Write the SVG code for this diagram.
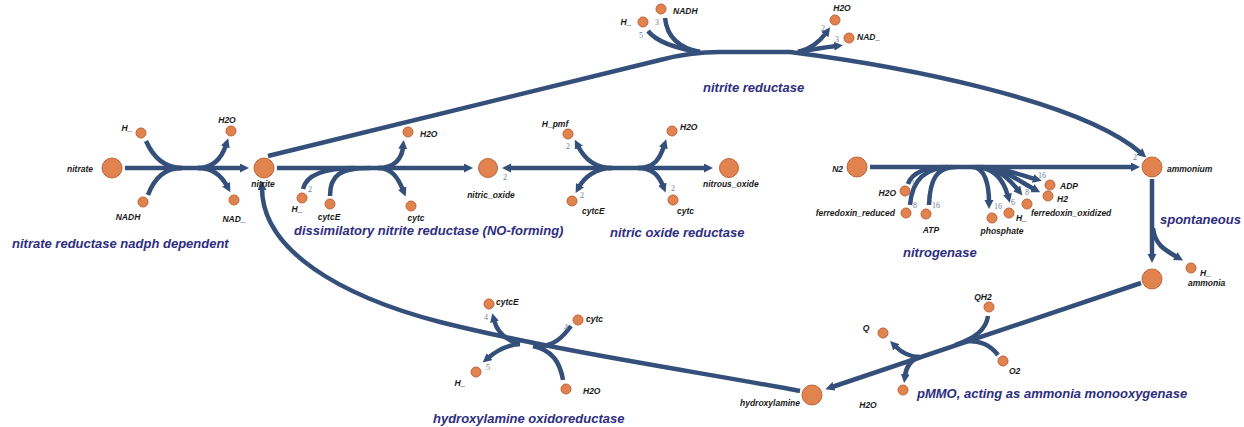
<svg xmlns="http://www.w3.org/2000/svg" width="1244" height="427" viewBox="0 0 1244 427">
<style>
.e{fill:none;stroke:#34507a;stroke-width:4.5}
.a{marker-end:url(#ah)}
.b{marker-start:url(#ah)}
.n{fill:#e0834f;stroke:#c0643a;stroke-width:1}
.l{font-family:"Liberation Sans",Arial,sans-serif;font-size:8.5px;font-style:italic;font-weight:bold;fill:#1a1a1a}
.ln{font-family:"Liberation Sans",Arial,sans-serif;font-size:8.5px;font-style:italic;font-weight:bold;fill:#1a1a1a}
.m{text-anchor:middle}
.r{text-anchor:end}
.rx{font-family:"Liberation Sans",Arial,sans-serif;font-size:13px;font-style:italic;font-weight:bold;fill:#2e2e80}
.st{font-family:"Liberation Serif",serif;font-size:8px;fill:#6b7b99}
</style>
<defs>
<marker id="ah" markerUnits="userSpaceOnUse" markerWidth="10" markerHeight="10" refX="2" refY="4.5" orient="auto-start-reverse"><path d="M0,0 L9,4.5 L0,9 z" fill="#34507a"/></marker>
</defs>
<rect width="1244" height="427" fill="#ffffff"/>
<g id="connectors">
<path class="e a" d="M125 168 L242 168"/>
<path class="e" d="M146 141 Q158 168 182 168"/>
<path class="e" d="M148 195 Q158 168 182 168"/>
<path class="e a" d="M198 168 C212 168 221 160 226 145"/>
<path class="e a" d="M198 168 C212 168 221 175 227 186"/>
<path class="e a" d="M268 156 L660 60 Q690 52 720 52 L790 52 C900 66 1080 100 1141 153"/>
<path class="e" d="M648 31 Q660 46 700 52"/>
<path class="e" d="M665 18 Q668 46 700 52"/>
<path class="e a" d="M798 52 Q815 48 826 33"/>
<path class="e a" d="M798 52 Q820 48 836 46"/>
<path class="e a" d="M277 168 L466 168"/>
<path class="e" d="M303 189 Q308 168 355 168"/>
<path class="e" d="M330 196 C330 175 340 168 370 168"/>
<path class="e a" d="M378 168 C395 168 402 158 403 147"/>
<path class="e a" d="M378 168 C392 168 398 178 403 190"/>
<path class="e a b" d="M509 168 L706 168"/>
<path class="e a" d="M612 168 C595 168 584 158 578 146"/>
<path class="e a" d="M612 168 C595 168 584 178 579 187"/>
<path class="e a" d="M638 168 C655 168 660 158 664 146"/>
<path class="e a" d="M638 168 C653 168 659 176 663 186"/>
<path class="e a" d="M870 167 L1133 167"/>
<path class="e" d="M908 184 C912 172 925 167 948 167"/>
<path class="e" d="M910 205 C912 180 925 167 952 167"/>
<path class="e" d="M929 205 C930 180 936 167 956 167"/>
<path class="e a" d="M972 167 C985 167 989 185 989 202"/>
<path class="e a" d="M975 167 C995 167 1004 182 1008 196"/>
<path class="e a" d="M978 167 C998 167 1010 180 1018 190"/>
<path class="e a" d="M980 167 C1005 168 1020 182 1034 189"/>
<path class="e a" d="M982 167 C1005 168 1020 175 1035 179"/>
<path class="e a" d="M1152 179 L1152 256"/>
<path class="e a" d="M1153 228 C1155 245 1165 250 1177 257"/>
<path class="e a" d="M1141 283 L832 387"/>
<path class="e" d="M988 316 C986 330 975 338 955 345"/>
<path class="e" d="M998 355 C990 345 982 341 966 341"/>
<path class="e a" d="M920 357 C910 357 902 353 895 346"/>
<path class="e a" d="M920 357 C910 360 906 368 905 376"/>
<path class="e a" d="M800 391 C700 372 560 352 440 322 C340 296 262 250 262 188"/>
<path class="e" d="M571 326 C562 338 555 345 538 347"/>
<path class="e" d="M563 380 C560 362 552 350 533 346"/>
<path class="e a" d="M520 344 C505 340 497 332 494 320"/>
<path class="e a" d="M520 344 C505 345 495 352 488 358"/>
<text class="st" x="639" y="38">5</text>
<text class="st" x="655" y="25">3</text>
<text class="st" x="821" y="31">2</text>
<text class="st" x="835" y="42">3</text>
<text class="st" x="308" y="192">2</text>
<text class="st" x="503" y="180">2</text>
<text class="st" x="566" y="149">2</text>
<text class="st" x="580" y="198">2</text>
<text class="st" x="671" y="191">2</text>
<text class="st" x="911" y="186">1</text>
<text class="st" x="913" y="208">8</text>
<text class="st" x="932" y="208">16</text>
<text class="st" x="994" y="209">16</text>
<text class="st" x="1011" y="205">6</text>
<text class="st" x="1025" y="195">8</text>
<text class="st" x="1038" y="178">16</text>
<text class="st" x="1133" y="160">2</text>
<text class="st" x="484" y="320">4</text>
<text class="st" x="564" y="330">4</text>
<text class="st" x="486" y="370">5</text>
</g>
<g id="nitrate"><circle class="n" cx="112" cy="168" r="10"/><text class="ln r" x="93" y="172">nitrate</text></g>
<g id="nitrite"><circle class="n" cx="264" cy="168" r="10"/><text class="ln m" x="263" y="187">nitrite</text></g>
<g id="nitric_oxide"><circle class="n" cx="488" cy="168" r="9.5"/><text class="ln m" x="491" y="198">nitric_oxide</text></g>
<g id="nitrous_oxide"><circle class="n" cx="729" cy="168" r="9.5"/><text class="ln" x="703" y="187">nitrous_oxide</text></g>
<g id="N2"><circle class="n" cx="857" cy="167" r="10"/><text class="l r" x="843" y="172">N2</text></g>
<g id="ammonium"><circle class="n" cx="1152" cy="167" r="10"/><text class="ln" x="1167" y="172">ammonium</text></g>
<g id="ammonia"><circle class="n" cx="1152" cy="279" r="10"/><text class="ln" x="1188" y="286">ammonia</text></g>
<g id="hydroxylamine"><circle class="n" cx="812" cy="395" r="10"/><text class="ln r" x="800" y="406">hydroxylamine</text></g>
<g id="r1_H"><circle class="n" cx="141" cy="133" r="5"/><text class="l m" x="127" y="131">H_</text></g>
<g id="r1_NADH"><circle class="n" cx="143" cy="202" r="5"/><text class="l m" x="128" y="220">NADH</text></g>
<g id="r1_H2O"><circle class="n" cx="231" cy="131" r="5"/><text class="l m" x="227" y="123">H2O</text></g>
<g id="r1_NAD"><circle class="n" cx="234" cy="200" r="5"/><text class="l m" x="234" y="222">NAD_</text></g>
<g id="r2_H"><circle class="n" cx="643" cy="22" r="5"/><text class="l m" x="626" y="25">H_</text></g>
<g id="r2_NADH"><circle class="n" cx="661" cy="9" r="5"/><text class="l" x="673" y="14">NADH</text></g>
<g id="r2_H2O"><circle class="n" cx="835" cy="20" r="5"/><text class="l m" x="842" y="11">H2O</text></g>
<g id="r2_NAD"><circle class="n" cx="849" cy="38" r="5"/><text class="l" x="857" y="40">NAD_</text></g>
<g id="r3_H"><circle class="n" cx="302" cy="198" r="5"/><text class="l m" x="297" y="212">H_</text></g>
<g id="r3_cytcE"><circle class="n" cx="330" cy="204" r="5"/><text class="l m" x="329" y="220">cytcE</text></g>
<g id="r3_H2O"><circle class="n" cx="408" cy="132" r="5"/><text class="l" x="420" y="137">H2O</text></g>
<g id="r3_cytc"><circle class="n" cx="411" cy="206" r="5"/><text class="l m" x="416" y="221">cytc</text></g>
<g id="r4_Hpmf"><circle class="n" cx="568" cy="134" r="5"/><text class="l m" x="555" y="127">H_pmf</text></g>
<g id="r4_cytcE"><circle class="n" cx="572" cy="201" r="5"/><text class="l" x="582" y="214">cytcE</text></g>
<g id="r4_H2O"><circle class="n" cx="672" cy="131" r="5"/><text class="l" x="680" y="130">H2O</text></g>
<g id="r4_cytc"><circle class="n" cx="673" cy="200" r="5"/><text class="l" x="677" y="214">cytc</text></g>
<g id="r5_H2O"><circle class="n" cx="905" cy="191" r="5"/><text class="l r" x="896" y="196">H2O</text></g>
<g id="r5_fdred"><circle class="n" cx="906" cy="213" r="5"/><text class="l r" x="895" y="216">ferredoxin_reduced</text></g>
<g id="r5_ATP"><circle class="n" cx="926" cy="214" r="5"/><text class="l m" x="931" y="233">ATP</text></g>
<g id="r5_Pi"><circle class="n" cx="992" cy="218" r="5"/><text class="l m" x="1002" y="234">phosphate</text></g>
<g id="r5_H"><circle class="n" cx="1009" cy="213" r="5"/><text class="l" x="1016" y="221">H_</text></g>
<g id="r5_fdox"><circle class="n" cx="1027" cy="204" r="5"/><text class="l" x="1031" y="216">ferredoxin_oxidized</text></g>
<g id="r5_H2"><circle class="n" cx="1048" cy="196" r="5"/><text class="l" x="1057" y="202">H2</text></g>
<g id="r5_ADP"><circle class="n" cx="1050" cy="185" r="5"/><text class="l" x="1060" y="189">ADP</text></g>
<g id="r6_H"><circle class="n" cx="1191" cy="268" r="5"/><text class="l" x="1200" y="276">H_</text></g>
<g id="r7_QH2"><circle class="n" cx="989" cy="307" r="5"/><text class="l m" x="983" y="300">QH2</text></g>
<g id="r7_O2"><circle class="n" cx="1003" cy="361" r="5"/><text class="l" x="1009" y="374">O2</text></g>
<g id="r7_Q"><circle class="n" cx="883" cy="333" r="5"/><text class="l m" x="866" y="331">Q</text></g>
<g id="r7_H2O"><circle class="n" cx="903" cy="390" r="5"/><text class="l m" x="868" y="408">H2O</text></g>
<g id="r8_cytcE"><circle class="n" cx="489" cy="304" r="5"/><text class="l" x="496" y="305">cytcE</text></g>
<g id="r8_cytc"><circle class="n" cx="578" cy="320" r="5"/><text class="l" x="586" y="322">cytc</text></g>
<g id="r8_H"><circle class="n" cx="476" cy="372" r="5"/><text class="l m" x="460" y="386">H_</text></g>
<g id="r8_H2O"><circle class="n" cx="566" cy="389" r="5"/><text class="l" x="583" y="394">H2O</text></g>
<g id="rxn_nitrate_reductase"><text class="rx" x="12" y="248">nitrate reductase nadph dependent</text></g>
<g id="rxn_nitrite_reductase"><text class="rx" x="703" y="92">nitrite reductase</text></g>
<g id="rxn_dissimilatory"><text class="rx" x="294" y="235">dissimilatory nitrite reductase (NO-forming)</text></g>
<g id="rxn_nitric_oxide_reductase"><text class="rx" x="610" y="237">nitric oxide reductase</text></g>
<g id="rxn_nitrogenase"><text class="rx" x="903" y="257">nitrogenase</text></g>
<g id="rxn_spontaneous"><text class="rx" x="1160" y="224">spontaneous</text></g>
<g id="rxn_pmmo"><text class="rx" x="917" y="398">pMMO, acting as ammonia monooxygenase</text></g>
<g id="rxn_hao"><text class="rx" x="433" y="423">hydroxylamine oxidoreductase</text></g>
</svg>
